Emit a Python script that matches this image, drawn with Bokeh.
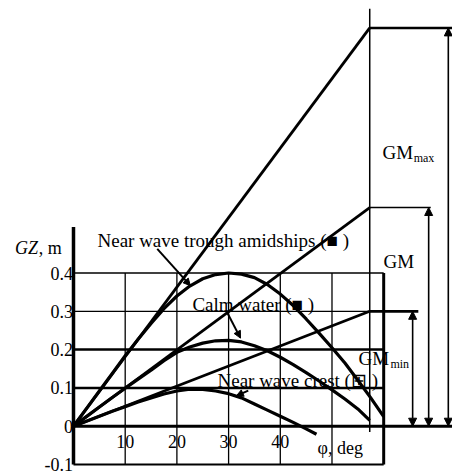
from bokeh.plotting import figure
from bokeh.models import Range1d, Arrow, NormalHead
from bokeh.core.properties import value
from bokeh.embed import file_html
from bokeh.resources import INLINE

# ---------------- data ----------------
phi_trough = [0, 2.5, 5, 7.5, 10, 12.5, 15, 17.5, 20, 22.5, 25, 27.5, 30,
              32.5, 35, 37.5, 40, 42.5, 45, 47.5, 50, 52.5, 55, 57.5, 60]
gz_trough = [0, 0.046, 0.092, 0.138, 0.184, 0.227, 0.268, 0.307, 0.340, 0.366,
             0.385, 0.396, 0.400, 0.397, 0.388, 0.370, 0.345, 0.315, 0.280,
             0.243, 0.205, 0.165, 0.120, 0.074, 0.025]

phi_calm = [0, 2.5, 5, 7.5, 10, 12.5, 15, 17.5, 20, 22.5, 25, 27.5, 30,
            32.5, 35, 37.5, 40, 42.5, 45, 47.5, 50, 52.5, 55, 57.3]
gz_calm = [0, 0.025, 0.050, 0.075, 0.099, 0.123, 0.146, 0.171, 0.193, 0.207,
           0.217, 0.223, 0.224, 0.220, 0.210, 0.197, 0.180, 0.161, 0.140,
           0.118, 0.095, 0.071, 0.045, 0.015]

phi_crest = [0, 2.5, 5, 7.5, 10, 12.5, 15, 17.5, 20, 22.5, 25, 27.5, 30,
             32.5, 35, 37.5, 40, 42.5, 45, 47]
gz_crest = [0, 0.013, 0.026, 0.039, 0.051, 0.063, 0.074, 0.084, 0.092, 0.097,
            0.096, 0.092, 0.085, 0.074, 0.058, 0.042, 0.026, 0.010, -0.007,
            -0.021]

one_rad_deg = 57.3
gm_values = [1.04, 0.571, 0.30]          # GM_max, GM, GM_min (GZ at 1 rad)

x_ticks = [10, 20, 30, 40]
x_grid = [10, 20, 30, 40, 50]
y_ticks = [0.4, 0.3, 0.2, 0.1, 0, -0.1]
y_tick_labels = ["0.4", "0.3", "0.2", "0.1", "0", "-0.1"]
y_grid = [0.1, 0.2, 0.3, 0.4]

x_min, x_max = 0, 60
y_min, y_max = -0.1, 0.4

# ---------------- figure ----------------
FONT = value("Liberation Serif")
p = figure(width=452, height=475,
           x_range=Range1d(-14.12, 73.31), y_range=Range1d(-0.1287, 1.1115),
           x_axis_type=None, y_axis_type=None,
           toolbar_location=None, output_backend="svg", min_border=0)
p.grid.visible = False
p.outline_line_color = None
p.background_fill_color = "white"
p.border_fill_color = "white"

# grid
p.segment(x0=[x_min] * len(y_grid), x1=[x_max] * len(y_grid), y0=y_grid, y1=y_grid,
          line_color="black", line_width=[2.5, 2.5, 1.3, 1.3])
p.segment(x0=x_grid, x1=x_grid, y0=[y_min] * len(x_grid), y1=[y_max] * len(x_grid),
          line_color="black", line_width=1.3)
# frame pieces
p.segment(x0=[x_min], x1=[x_max], y0=[y_min], y1=[y_min], line_color="black", line_width=2)
p.segment(x0=[x_max], x1=[x_max], y0=[y_min], y1=[y_max], line_color="black", line_width=3)
p.segment(x0=[0], x1=[0], y0=[y_min], y1=[0.52], line_color="black", line_width=3.5)
p.segment(x0=[0], x1=[73.31], y0=[0], y1=[0], line_color="black", line_width=3)
# one radian vertical
p.segment(x0=[one_rad_deg], x1=[one_rad_deg], y0=[-0.015], y1=[1.09],
          line_color="black", line_width=1.5)

# GM tangent lines
p.segment(x0=[0, 0, 0], y0=[0, 0, 0], x1=[one_rad_deg] * 3, y1=gm_values,
          line_color="black", line_width=2.8)
# horizontal extensions
p.segment(x0=[one_rad_deg] * 3, x1=[73.31, 69.1, 66.7], y0=gm_values, y1=gm_values,
          line_color="black", line_width=[2.5, 1.5, 2.8])
# dimension arrows
for xa, gv in zip([72.5, 68.7, 65.6], gm_values):
    p.add_layout(Arrow(x_start=xa, y_start=0, x_end=xa, y_end=gv,
                       line_width=1.6, line_color="black",
                       start=NormalHead(size=8, fill_color="black", line_color="black"),
                       end=NormalHead(size=8, fill_color="black", line_color="black")))

# GZ curves
p.line(phi_trough, gz_trough, line_color="black", line_width=3.2)
p.line(phi_calm, gz_calm, line_color="black", line_width=3.2)
p.line(phi_crest, gz_crest, line_color="black", line_width=3.2)

# label pointer arrows
for (xs, ys, xe, ye) in [(16.2, 0.463, 22.6, 0.367),
                         (29.6, 0.300, 32.3, 0.230),
                         (33.8, 0.093, 31.5, 0.079)]:
    p.add_layout(Arrow(x_start=xs, y_start=ys, x_end=xe, y_end=ye,
                       line_width=2, line_color="black",
                       end=NormalHead(size=7, fill_color="black", line_color="black")))

# tick labels
p.text(x=[-0.1] * len(y_ticks), y=y_ticks, text=y_tick_labels,
       text_font=FONT, text_font_size="18px", text_align="right",
       text_baseline="middle", text_color="black")
p.text(x=x_ticks, y=[-0.041] * len(x_ticks), text=[str(t) for t in x_ticks],
       text_font=FONT, text_font_size="18px", text_align="center",
       text_baseline="middle", text_color="black")

# axis titles
p.text(x=[-11.3], y=[0.466], text=["GZ"], text_font=FONT, text_font_size="18px",
       text_font_style="italic", text_baseline="middle")
p.text(x=[-6.7], y=[0.466], text=[", m"], text_font=FONT, text_font_size="18px",
       text_baseline="middle")
p.text(x=[47.2], y=[-0.056], text=["φ, deg"], text_font=FONT, text_font_size="18px",
       text_baseline="middle")

# curve labels
p.text(x=[4.64, 23.0, 27.85], y=[0.4836, 0.318, 0.119],
       text=["Near wave trough amidships (■ )", "Calm water (■ )", "Near wave crest (⊞ )"],
       text_font=FONT, text_font_size="19px", text_baseline="middle")

# GM labels
p.text(x=[59.77, 59.96, 55.13], y=[0.7146, 0.43, 0.1768], text=["GM", "GM", "GM"],
       text_font=FONT, text_font_size="19px", text_baseline="middle")
p.text(x=[65.8, 61.3], y=[0.700, 0.162], text=["max", "min"],
       text_font=FONT, text_font_size="12px", text_baseline="middle")

open("out.html", "w").write(file_html(p, INLINE))
